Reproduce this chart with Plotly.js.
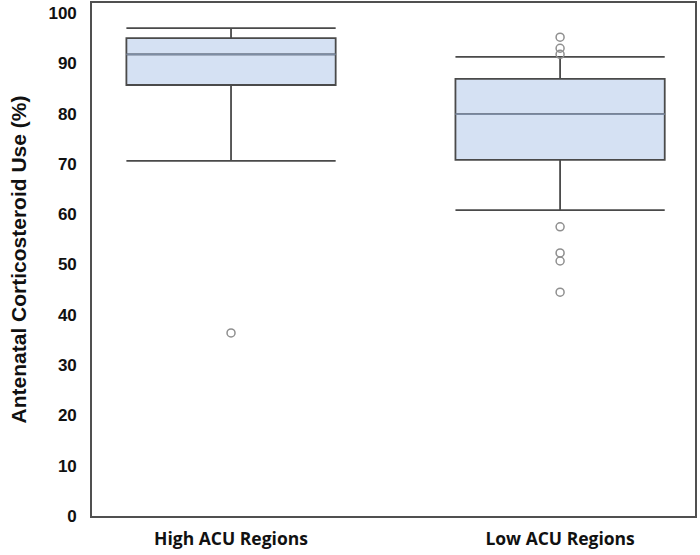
<!DOCTYPE html>
<html>
<head>
<meta charset="utf-8">
<script src="https://cdn.plot.ly/plotly-3.0.1.min.js"></script>
<style>html,body{margin:0;padding:0;background:#fff}#chart{width:700px;height:555px}</style>
</head>
<body>
<div id="chart"></div>
<script>
const categories = ["High ACU Regions", "Low ACU Regions"];
const lowerFence = [70.6, 60.8];
const q1 = [85.7, 70.8];
const median = [91.8, 79.9];
const q3 = [95.0, 86.9];
const upperFence = [97.0, 91.3];
const outliersHigh = [36.4];
const outliersLow = [95.2, 93.0, 91.8, 57.5, 52.3, 50.7, 44.5];
const yTicks = [0, 10, 20, 30, 40, 50, 60, 70, 80, 90, 100];

const boxWidth = 0.636;
const traces = [
  {
    type: "box",
    x: categories,
    q1: q1, median: median, q3: q3,
    lowerfence: lowerFence, upperfence: upperFence,
    width: boxWidth,
    whiskerwidth: 1,
    fillcolor: "#d5e1f3",
    line: {color: "#4a4a4a", width: 1.8},
    hoverinfo: "none",
    showlegend: false
  },
  {
    type: "box",
    x: categories,
    q1: median, median: median, q3: median,
    lowerfence: median, upperfence: median,
    width: boxWidth,
    whiskerwidth: 0,
    fillcolor: "rgba(0,0,0,0)",
    line: {color: "#7d8ca3", width: 1.8},
    hoverinfo: "none",
    showlegend: false
  },
  {
    type: "scatter",
    mode: "markers",
    x: outliersHigh.map(() => categories[0]).concat(outliersLow.map(() => categories[1])),
    y: outliersHigh.concat(outliersLow),
    marker: {symbol: "circle-open", size: 8, color: "#8f8f8f", line: {width: 1.5}},
    hoverinfo: "none",
    showlegend: false
  }
];

const layout = {
  width: 700, height: 555,
  margin: {l: 92, r: 5, t: 3, b: 39},
  paper_bgcolor: "#fff", plot_bgcolor: "#fff",
  boxmode: "overlay",
  xaxis: {
    type: "category",
    range: [-0.4225, 1.41],
    showline: true, mirror: true, linecolor: "#505050", linewidth: 1.8,
    showgrid: false, zeroline: false, ticks: "",
    tickfont: {family: "Open Sans, Lato, sans-serif", size: 17.5, color: "#111", weight: "bold"},
    ticklabelstandoff: 6
  },
  yaxis: {
    range: [0, 102],
    tickvals: yTicks,
    showline: true, mirror: true, linecolor: "#505050", linewidth: 1.8,
    showgrid: false, zeroline: false, ticks: "",
    tickfont: {family: "Liberation Sans, Arial, sans-serif", size: 17, color: "#111", weight: "bold"},
    ticklabelstandoff: 10,
    title: {
      text: "<b>Antenatal Corticosteroid Use (%)</b>",
      font: {family: "Liberation Sans, Arial, sans-serif", size: 21, color: "#111"},
      standoff: 16
    }
  }
};

Plotly.newPlot("chart", traces, layout, {displayModeBar: false, staticPlot: true});
</script>
</body>
</html>
